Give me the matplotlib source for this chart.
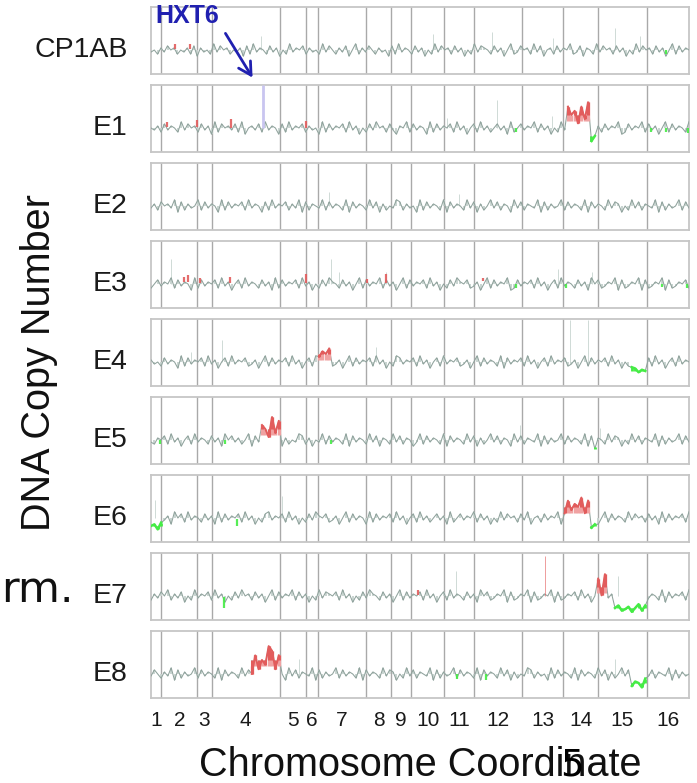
import numpy as np
import matplotlib
matplotlib.use('Agg')
import matplotlib.pyplot as plt

# ---- data ----
CHROM_NAMES = [str(i) for i in range(1, 17)]
CHROM_LEN_KB = [230, 813, 316, 1532, 577, 270, 1091, 563, 440, 745, 667, 1078, 924, 784, 1091, 948]
SAMPLES = ['CP1AB', 'E1', 'E2', 'E3', 'E4', 'E5', 'E6', 'E7', 'E8']

# hand-read log-ratio wiggle, one digit per probe window (5 = baseline)
TRACE_DIGITS = [
    "45364756354637264538475635462738465374625384657364538475364725836475364527384653746253847563746253847653746258347563847256374658347265384756374625384756374625837465",
    "54637465384756374628375647382564738465273846573645283746573846253748563742658374652837465738462573846357462835746583746253847563748256374658237465837462583746538",
    "46375648273645837465283746573846527384657364827365483746538274653847263548736452837465382746538472635847365284736548273645837465382746538476253847365482736458374",
    "35746583746528374657384625738465374628374657384625374865374625837465837462583746573846253748657346258374658237465738462573846537462857346582734658273465827346573",
    "64537465283746573846257384657346258374657384625738465734625837465738462538746573846257384657346258374653827465738462573846573462583746573846253874657384625738465",
    "43657384625738465374628574635827465384726354873625483746538274653847265384736524837465382746538472635847365284736548273645837465382746538476253847365482736458374",
    "56374628573846537462837465738462537846573846253748657346258374652837465738462573846357462835746583746253847563748256374658237465837462583746538475637462837465738",
    "36475836472538465738462537485637462583746583746253847657384625374865374625837465738462573846537462857346582734658273465827346573846257384657346258374653827465738",
    "47536482736458374653827465384726354873652847365482736458374653827465384762538473654827364583746538274653847263548736452837465382746538472635847365284736548273645",
]

# copy-number changes: (sample, start kb, end kb, level, spread, kind)
BLOCKS = [
    ('E1', 9282, 9844, 13, 2.0, 'gain'), ('E1', 9844, 10030, -8, 0.8, 'loss'),
    ('E4', 3731, 4068, 8, 1.3, 'gain'), ('E4', 10720, 11125, -9, 0.6, 'loss'),
    ('E5', 2472, 2899, 11, 1.9, 'gain'), ('E5', 9889, 10030, -7, 0.8, 'loss'),
    ('E6', 0, 230, -8, 0.8, 'loss'), ('E6', 9246, 9844, 11, 1.5, 'gain'),
    ('E6', 9844, 10030, -8, 0.8, 'loss'),
    ('E7', 10030, 10190, 9, 2.0, 'gain'), ('E7', 10361, 11121, -12, 0.6, 'loss'),
    ('E8', 2247, 2899, 14, 2.2, 'gain'), ('E8', 10720, 11145, -9, 0.7, 'loss'),
]

# short single-probe calls: (sample, kb, y from, y to, kind)
MARKS = [
    ('CP1AB', 540, 1, 6, 'gain'), ('CP1AB', 880, 1, 6, 'gain'), ('CP1AB', 11550, -4, 0, 'loss'),
    ('E1', 350, 1, 6, 'gain'), ('E1', 1030, 1, 8, 'gain'), ('E1', 1790, 0, 9, 'gain'),
    ('E1', 3480, 0, 7, 'gain'), ('E1', 8190, -4, 0, 'loss'), ('E1', 11220, -4, 0, 'loss'),
    ('E1', 11560, -4, 0, 'loss'), ('E1', 12040, -5, 0, 'loss'),
    ('E3', 730, 2, 7, 'gain'), ('E3', 840, 2, 9, 'gain'), ('E3', 1100, 1, 6, 'gain'),
    ('E3', 1780, 1, 7, 'gain'), ('E3', 3480, 1, 10, 'gain'), ('E3', 4850, 1, 5, 'gain'),
    ('E3', 5280, 1, 10, 'gain'), ('E3', 7440, 3, 6, 'gain'), ('E3', 8190, -4, 0, 'loss'),
    ('E3', 9310, -4, 0, 'loss'), ('E3', 11460, -3, 0, 'loss'), ('E3', 12030, -4, 0, 'loss'),
    ('E5', 210, -4, 0, 'loss'), ('E5', 1650, -4, 0, 'loss'), ('E5', 4030, -4, 0, 'loss'),
    ('E6', 1940, -8, -1, 'loss'),
    ('E7', 1630, -12, -1, 'loss'), ('E7', 5980, 1, 6, 'gain'), ('E7', 8833, 0, 40, 'gain'),
    ('E8', 6860, -5, 0, 'loss'), ('E8', 7510, -6, 0, 'loss'),
]

# isolated high probes: (sample, kb, height)
SPIKES = [
    ('CP1AB', 2472, 14), ('CP1AB', 6315, 16), ('CP1AB', 7641, 18), ('CP1AB', 9012, 12),
    ('CP1AB', 10406, 22), ('CP1AB', 10968, 14),
    ('E1', 7754, 28), ('E1', 6630, 10), ('E1', 9000, 12),
    ('E2', 4000, 14), ('E2', 6900, 12),
    ('E3', 450, 25), ('E3', 4046, 25), ('E3', 4225, 12), ('E3', 5282, 12),
    ('E3', 9125, 15), ('E3', 9889, 12),
    ('E4', 1596, 22), ('E4', 899, 10), ('E4', 5057, 15), ('E4', 9395, 42), ('E4', 9799, 42),
    ('E5', 8271, 15), ('E5', 10069, 12),
    ('E6', 2944, 22), ('E6', 90, 18),
    ('E7', 6832, 25), ('E7', 10473, 20),
    ('E8', 10406, 15), ('E8', 3326, 15),
]

HXT6_KB = 2509

# ---- drawing ----
RED = '#e25c5c'
RED_LIGHT = '#f0a2a2'
GREEN = '#45ec45'
TRACE = '#8fa29c'
TRACE_LIGHT = '#c8d4d0'

W, H = 697, 783
fig = plt.figure(figsize=(W / 100, H / 100), dpi=100)

bounds = np.concatenate([[0], np.cumsum(CHROM_LEN_KB)])
total = bounds[-1]
centers = (bounds[:-1] + bounds[1:]) / 2

left_px, right_px = 151, 689
panel_h = 67
for i, name in enumerate(SAMPLES):
    top_px = 7 + 78 * i
    ax = fig.add_axes([left_px / W, 1 - (top_px + panel_h) / H,
                       (right_px - left_px) / W, panel_h / H])
    ax.set_xlim(0, total)
    ax.set_ylim(-24, 43)

    vals = np.array([int(c) for c in TRACE_DIGITS[i]], dtype=float) - 5
    x = np.linspace(0, total, len(vals))
    level = np.zeros_like(x)
    spread = np.ones_like(x)
    blocks = [b for b in BLOCKS if b[0] == name]
    for _, s, e, lev, spr, kind in blocks:
        m = (x >= s) & (x <= e)
        level[m] = lev
        spread[m] = spr
    y = level + vals * 2.1 * spread

    for _, kb, h in [s for s in SPIKES if s[0] == name]:
        ax.vlines(kb, 0, h, color=TRACE_LIGHT, lw=0.6, zorder=2)

    ax.vlines(x, level, y, color=TRACE_LIGHT, lw=1.4, zorder=2)
    ax.plot(x, y, color=TRACE, lw=0.75, zorder=3)

    for _, s, e, lev, spr, kind in blocks:
        m = (x >= s) & (x <= e)
        if kind == 'gain':
            ax.vlines(x[m], level[m] - 6, y[m], color=RED_LIGHT, lw=2.4, zorder=4)
            ax.vlines(x[m], level[m], y[m], color=RED, lw=2.2, zorder=4)
            ax.plot(x[m], y[m], color=RED, lw=1.4, zorder=4)
        else:
            ax.vlines(x[m], level[m], y[m], color=GREEN, lw=2.0, zorder=4)
            ax.plot(x[m], y[m], color=GREEN, lw=1.8, zorder=4)

    for _, kb, y0, y1, kind in [mk for mk in MARKS if mk[0] == name]:
        col = RED if kind == 'gain' else GREEN
        lw = 0.7 if y1 - y0 > 30 else 1.6
        ax.vlines(kb, y0, y1, color=col, lw=lw, alpha=0.9 if lw > 1 else 0.6, zorder=4)

    if name == 'E1':
        ax.vlines(HXT6_KB, 0, 43, color='#c9c5f0', lw=2.0, zorder=4)

    for b in bounds[1:-1]:
        ax.axvline(b, color='#a9a9a9', lw=1.0, zorder=1)
    for sp in ax.spines.values():
        sp.set_color('#c6c6c6')
        sp.set_linewidth(1.3)

    ax.set_yticks([])
    if i == len(SAMPLES) - 1:
        ax.set_xticks(centers)
        ax.set_xticklabels(CHROM_NAMES, fontsize=15, family='Liberation Sans', color='#1a1a1a')
        ax.tick_params(axis='x', length=0, pad=9)
    else:
        ax.set_xticks([])

    ax.text(-0.043, 0, name, transform=ax.get_yaxis_transform(), ha='right', va='center',
            fontsize=20.5, family='Liberation Sans', color='#1a1a1a')

fig.text(39 / W, 1 - 363 / H, 'DNA Copy Number', rotation=90, ha='center', va='center',
         fontsize=28.5, family='Liberation Sans', color='#111111')
fig.text(420 / W, 1 - 765 / H, 'Chromosome Coordinate', ha='center', va='center',
         fontsize=28.5, family='Liberation Sans', color='#111111')
fig.text(1 / W, 1 - 590 / H, 'rm.', ha='left', va='center', fontsize=31,
         family='DejaVu Sans', color='#111111')
fig.text(572 / W, 1 - 766 / H, '5', ha='center', va='center', fontsize=27,
         family='DejaVu Sans', color='#000000')

fig.text(155 / W, 1 - 16 / H, 'HXT6', ha='left', va='center', fontsize=18,
         fontweight='bold', family='Liberation Sans', color='#2020b0')
fig.add_artist(matplotlib.patches.FancyArrowPatch(
    (224 / W, 1 - 31 / H), (254 / W, 1 - 80 / H), transform=fig.transFigure,
    arrowstyle='->,head_length=9,head_width=5', color='#2020b0', lw=2.0))

fig.savefig('out.png', dpi=100)
